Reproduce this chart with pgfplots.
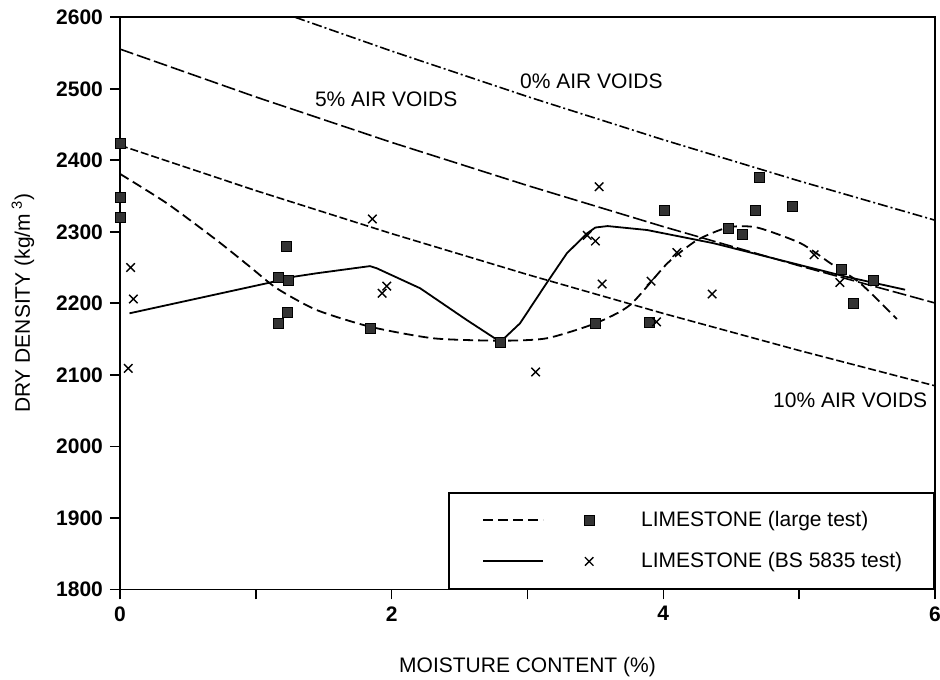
\documentclass[border=0pt]{standalone}
\usepackage{fontspec}
\setmainfont{Liberation Sans}
\usepackage{pgfplots}
\pgfplotsset{compat=1.18}
\pgfplotsset{
  sqlegend/.style={legend image code/.code={
    \path[draw=none, fill=none] (-3pt,-1pt) rectangle (77pt,1pt);
    \draw[black, line width=0.9pt, dash pattern=on 5pt off 2.5pt] (0pt,0pt) -- (30pt,0pt);
    \draw[##1] plot coordinates {(53pt,0pt)};}},
  xlegend/.style={legend image code/.code={
    \path[draw=none, fill=none] (-3pt,-1pt) rectangle (77pt,1pt);
    \draw[black, line width=0.9pt, solid] (0pt,0pt) -- (30pt,0pt);
    \draw[##1] plot coordinates {(53pt,0pt)};}},
}
\begin{document}
\begin{tikzpicture}
\begin{axis}[
  scale only axis,
  width=407.5pt, height=286pt,
  xmin=0, xmax=6, ymin=1800, ymax=2600,
  xtick={0,1,2,3,4,5,6},
  xticklabels={0,,2,,4,,6},
  ytick={1800,1900,2000,2100,2200,2300,2400,2500,2600},
  tick pos=left,
  tick align=outside,
  major tick length=5pt,
  axis line style={line width=0.8pt},
  every tick/.style={black, line width=0.8pt},
  /pgf/number format/assume math mode=true,
  /pgf/number format/1000 sep={},
  tick label style={font=\fontsize{10.5}{12}\selectfont\bfseries},
  xlabel={MOISTURE CONTENT (\%)},
  ylabel={DRY DENSITY (kg/m\textsuperscript{ 3})},
  label style={font=\fontsize{10.5}{12}\selectfont},
  xlabel style={at={(axis description cs:0.5,-0.136)}, anchor=center},
  ylabel style={at={(axis description cs:-0.119,0.5)}, anchor=center},
  clip=false,
  legend style={at={(1,0)}, anchor=south east, draw=black, line width=0.8pt,
    font=\fontsize{10.5}{12}\selectfont, inner xsep=14pt, inner ysep=7pt,
    row sep=7.5pt, cells={anchor=west}},
  legend cell align=left,
]
% 0% air voids
\addplot[black, line width=0.8pt, dash pattern=on 5pt off 1.5pt on 1pt off 1.5pt, forget plot] coordinates {
 (1.29,2600) (2,2552.7) (3,2489.1) (4,2428.7) (5,2371.1) (6,2316.2)};
% 5% air voids
\addplot[black, line width=0.8pt, dash pattern=on 7pt off 2pt, forget plot] coordinates {
 (0,2555.5) (1,2488.6) (2,2425.0) (3,2364.7) (4,2307.2) (5,2252.5) (6,2200.4)};
% 10% air voids
\addplot[black, line width=0.8pt, dash pattern=on 4pt off 1.5pt, forget plot] coordinates {
 (0,2421) (1,2357.6) (2,2297.4) (3,2240.2) (4,2185.8) (5,2134.0) (6,2084.6)};
% large test curve (dashed)
\addplot[black, line width=0.9pt, dash pattern=on 5pt off 2.5pt, smooth, tension=0.4, forget plot] coordinates {
 (0,2381) (0.344,2340) (0.71,2288.5) (0.957,2251) (1.154,2221) (1.448,2190.6)
 (1.846,2167) (2.31,2151) (2.80,2147.7) (3.14,2151) (3.50,2172) (3.755,2197.6)
 (4.03,2256) (4.25,2288.5) (4.48,2306.3) (4.69,2306) (5.01,2284) (5.23,2256)
 (5.45,2228) (5.72,2178)};
% BS 5835 test curve (solid)
\addplot[black, line width=0.9pt, forget plot] coordinates {
 (0.07,2186) (1.105,2229) (1.24,2236) (1.448,2242) (1.84,2252) (1.89,2249)
 (2.21,2221) (2.553,2176.6) (2.80,2146) (2.945,2172) (3.14,2228) (3.29,2270)
 (3.44,2298) (3.50,2306) (3.59,2308) (3.88,2302.5) (4.37,2284) (4.86,2260.5)
 (5.35,2237) (5.78,2219)};
% squares
\addplot[only marks, mark=square*, mark size=2.5pt, mark options={fill=black!80, draw=black, line width=0.4pt}, sqlegend]
 coordinates {
 (0,2423) (0,2348) (0,2320) (1.227,2279) (1.166,2236) (1.24,2232) (1.235,2187)
 (1.163,2172) (1.846,2164.5) (2.80,2146) (3.50,2172) (3.90,2173) (4.01,2330.5)
 (4.48,2305) (4.58,2296.5) (4.68,2330.5) (4.71,2376) (4.95,2336) (5.31,2248)
 (5.40,2200) (5.55,2232.6)};
\addlegendentry{LIMESTONE (large test)}
% crosses
\addplot[only marks, mark=x, mark size=3pt, mark options={draw=black, line width=0.7pt}, xlegend]
 coordinates {
 (0.078,2250) (0.098,2206) (0.061,2109) (1.858,2318) (1.964,2224) (1.93,2214)
 (3.527,2363) (3.44,2295) (3.50,2287) (3.06,2104) (3.55,2227) (3.91,2231)
 (3.95,2174) (4.10,2271) (4.36,2213) (5.11,2268) (5.30,2229)};
\addlegendentry{LIMESTONE (BS 5835 test)}
\node[font=\fontsize{10.5}{12}\selectfont] at (axis cs:3.47,2511) {0\% AIR VOIDS};
\node[font=\fontsize{10.5}{12}\selectfont] at (axis cs:1.96,2485) {5\% AIR VOIDS};
\node[font=\fontsize{10.5}{12}\selectfont] at (axis cs:5.376,2065) {10\% AIR VOIDS};
\end{axis}
\pgfresetboundingbox
\path ([shift={(-60pt,-45pt)}]current axis.south west) rectangle ([shift={(2.5pt,8.65pt)}]current axis.north east);
\end{tikzpicture}
\end{document}
